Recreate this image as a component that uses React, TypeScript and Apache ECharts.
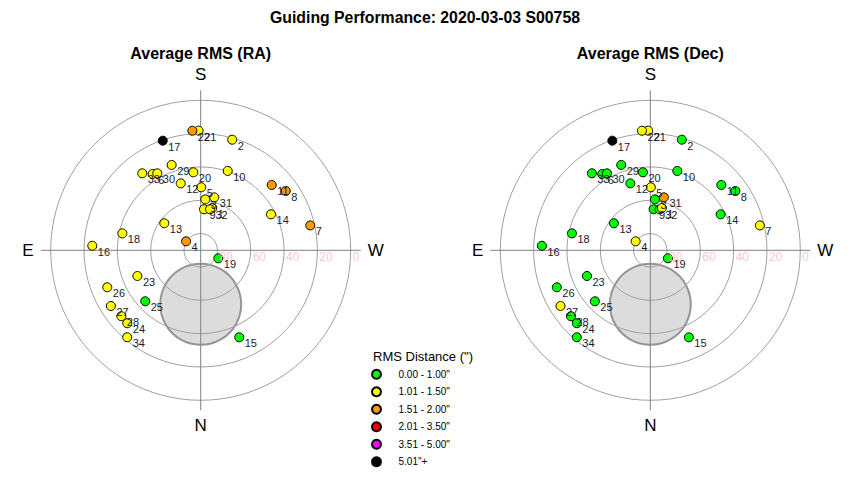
import React, { useEffect, useRef } from "react";
import * as echarts from "echarts";

// ---- data ----
const pointIds = [1, 2, 3, 4, 5, 6, 7, 8, 9, 10, 11, 12, 13, 14, 15, 16, 17, 18, 19, 20, 21, 22, 23, 24, 25, 26, 27, 28, 29, 30, 31, 32, 33, 34];
// altitude (deg) and azimuth (deg, N=0, E=90, S=180, W=270)
const altitudes = [63.7, 21.0, 59.3, 79.7, 52.2, 35.9, 22.6, 27.8, 65.3, 39.7, 32.1, 48.1, 62.8, 42.6, 32.9, 24.9, 20.4, 41.9, 78.4, 43.0, 18.2, 18.1, 49.0, 27.9, 44.8, 29.7, 26.6, 28.1, 35.9, 37.0, 57.2, 64.8, 32.0, 21.7];
const azimuths = [195.3, 195.9, 185.2, 121.5, 180.5, 147.8, 257.2, 235.1, 184.6, 198.8, 227.4, 163.4, 126.6, 242.9, 336.1, 92.4, 160.9, 102.2, 294.4, 174.6, 179.0, 176.0, 67.9, 45.2, 47.4, 68.4, 58.2, 50.3, 161.2, 150.6, 194.4, 192.8, 142.8, 40.2];
// RMS class index per point (0..5)
const raClass = [1, 1, 1, 2, 1, 1, 2, 2, 1, 1, 2, 1, 1, 1, 0, 1, 5, 1, 0, 1, 1, 2, 1, 1, 0, 1, 1, 1, 1, 1, 1, 1, 1, 1];
const decClass = [1, 0, 0, 1, 1, 0, 1, 0, 0, 0, 0, 0, 0, 0, 0, 0, 5, 0, 0, 0, 1, 1, 0, 0, 0, 0, 1, 0, 0, 0, 2, 0, 0, 0];

const classLabels = ['0.00 - 1.00"', '1.01 - 1.50"', '1.51 - 2.00"', '2.01 - 3.50"', '3.51 - 5.00"', '5.01"+'];
const classColors = ["#00FF00", "#FFFF00", "#FF9900", "#FF0000", "#FF00FF", "#000000"];

const ringLabels = [80, 60, 40, 20, 0];
const compassNames: Record<number, string> = { 0: "N", 90: "E", 180: "S", 270: "W" };

// shaded exclusion zone (altitude, azimuth)
const zoneAlt = [57.6];
const zoneAz = [0];

const mainTitle = "Guiding Performance: 2020-03-03 S00758";
const panelTitles = ["Average RMS (RA)", "Average RMS (Dec)"];
const legendTitle = 'RMS Distance (")';

const FONT = "'Liberation Sans', Arial, sans-serif";

function buildOption() {
  const cy = 250.3;
  const centers = [200.7, 650.3];
  const classesByPanel = [raClass, decClass];

  const polar: any[] = [];
  const angleAxis: any[] = [];
  const radiusAxis: any[] = [];
  const series: any[] = [];
  const titles: any[] = [
    {
      text: mainTitle,
      left: "center",
      top: 9,
      padding: 0,
      textStyle: { fontSize: 15.8, fontWeight: "bold", color: "#000", fontFamily: FONT },
    },
  ];

  centers.forEach((cx, p) => {
    const ringIdx = p * 2;
    const crossIdx = p * 2 + 1;
    polar.push({ center: [cx, cy], radius: 150 });
    polar.push({ center: [cx, cy], radius: 160 });

    angleAxis.push({
      polarIndex: ringIdx,
      type: "value",
      min: 0,
      max: 360,
      startAngle: 270,
      clockwise: true,
      axisLine: { show: false },
      axisTick: { show: false },
      axisLabel: { show: false },
      splitLine: { show: false },
      z: 2,
    });
    angleAxis.push({
      polarIndex: crossIdx,
      type: "value",
      min: 0,
      max: 360,
      interval: 90,
      startAngle: 270,
      clockwise: true,
      axisLine: { show: false },
      axisTick: { show: false },
      axisLabel: {
        show: true,
        margin: 7,
        fontSize: 17,
        color: "#000",
        fontFamily: FONT,
        formatter: (v: number) => compassNames[v] ?? "",
      },
      splitLine: { show: true, lineStyle: { color: "#808080", width: 1 } },
      z: 2,
    });
    radiusAxis.push({
      polarIndex: ringIdx,
      type: "value",
      min: 0,
      max: 90,
      interval: 20,
      inverse: true,
      axisLine: { show: false },
      axisTick: { show: false },
      axisLabel: { show: false },
      splitLine: { show: true, lineStyle: { color: "#A0A0A0", width: 1 } },
      z: 2,
    });
    radiusAxis.push({
      polarIndex: crossIdx,
      type: "value",
      min: 0,
      max: 90,
      axisLine: { show: false },
      axisTick: { show: false },
      axisLabel: { show: false },
      splitLine: { show: false },
    });

    titles.push({
      text: panelTitles[p],
      left: cx,
      textAlign: "center",
      top: 45,
      padding: 0,
      textStyle: { fontSize: 16, fontWeight: "bold", color: "#000", fontFamily: FONT },
    });

    // shaded zone
    series.push({
      type: "scatter",
      coordinateSystem: "polar",
      polarIndex: ringIdx,
      silent: true,
      data: zoneAlt.map((a, i) => [a, zoneAz[i]]),
      symbolSize: 81,
      itemStyle: { color: "#D3D3D3", borderColor: "#808080", borderWidth: 2 },
      z: 1,
    });

    // ring labels
    series.push({
      type: "scatter",
      coordinateSystem: "polar",
      polarIndex: ringIdx,
      silent: true,
      data: ringLabels.map((a) => [a, 270]),
      symbolSize: 1,
      itemStyle: { color: "transparent" },
      label: {
        show: true,
        position: "right",
        distance: 1.5,
        offset: [0, 7],
        formatter: (pr: any) => String(pr.data[0]),
        color: "#FFB6C1",
        fontSize: 12,
        fontFamily: FONT,
      },
      z: 3,
    });

    const cls = classesByPanel[p];
    classLabels.forEach((name, k) => {
      const data: any[] = [];
      pointIds.forEach((id, i) => {
        if (cls[i] === k) data.push([altitudes[i], azimuths[i], id]);
      });
      series.push({
        type: "scatter",
        name,
        coordinateSystem: "polar",
        polarIndex: ringIdx,
        data,
        symbolSize: 9,
        itemStyle: { color: classColors[k], borderColor: "#000", borderWidth: 1, opacity: 1 },
        label: {
          show: true,
          position: [10.5, 11],
          align: "left",
          verticalAlign: "middle",
          formatter: (pr: any) => String(pr.data[2]),
          fontSize: 11,
          color: "#1a1a33",
          fontFamily: FONT,
        },
        z: 3,
      });
    });
  });

  titles.push({
    text: legendTitle,
    left: 373,
    top: 350,
    padding: 0,
    textStyle: { fontSize: 13, fontWeight: "normal", color: "#000", fontFamily: FONT },
  });

  return {
    animation: false,
    backgroundColor: "#fff",
    textStyle: { fontFamily: FONT },
    title: titles,
    legend: {
      data: classLabels,
      orient: "vertical",
      left: 371,
      top: 368.3,
      padding: 0,
      itemWidth: 34,
      itemHeight: 9,
      itemGap: 5.5,
      icon: "circle",
      selectedMode: false,
      textStyle: { fontSize: 10, lineHeight: 12, color: "#000", fontFamily: FONT },
    },
    polar,
    angleAxis,
    radiusAxis,
    series,
  };
}

export default function App() {
  const ref = useRef<HTMLDivElement>(null);
  useEffect(() => {
    if (!ref.current) return;
    const chart = echarts.init(ref.current, undefined, { renderer: "svg" });
    chart.setOption(buildOption() as any);
    return () => chart.dispose();
  }, []);
  return (
    <div
      ref={ref}
      style={{ position: "fixed", left: 0, top: 0, width: 850, height: 480, background: "#fff" }}
    />
  );
}
